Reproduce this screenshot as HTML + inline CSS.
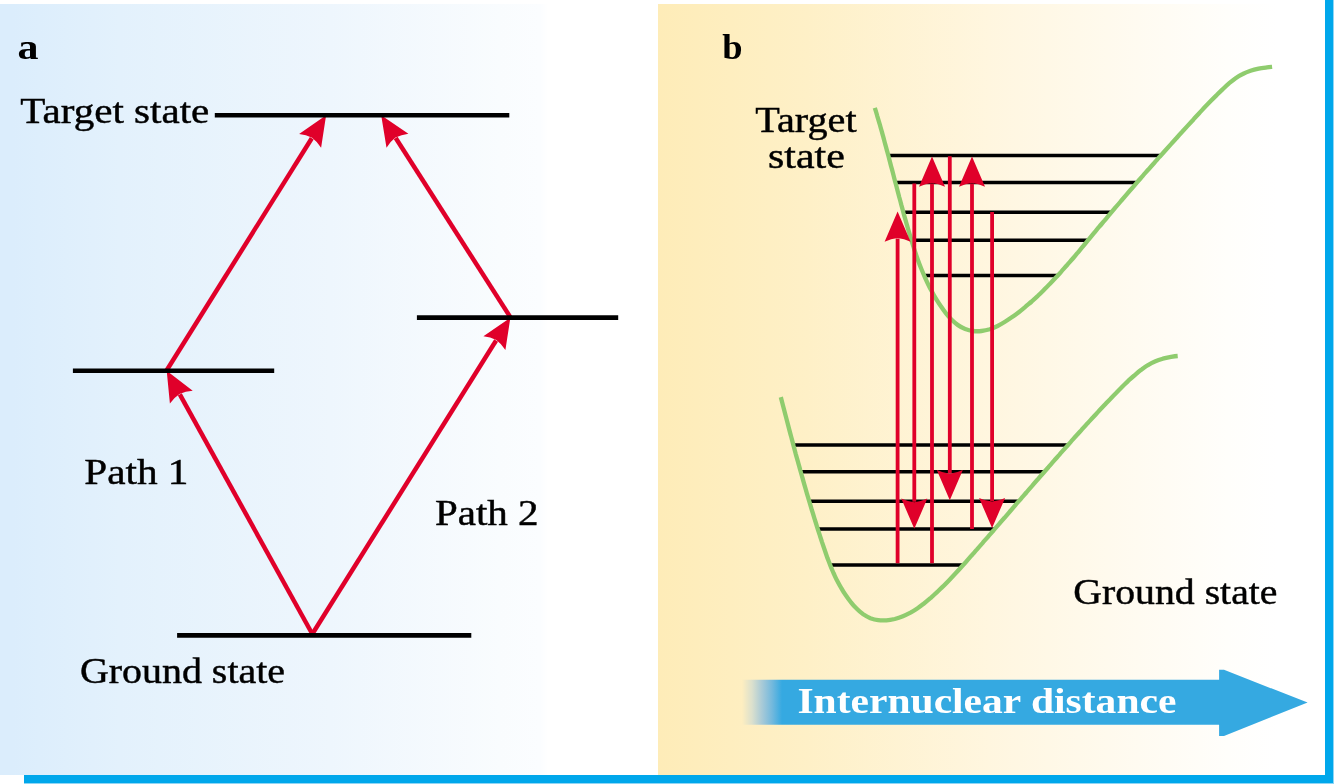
<!DOCTYPE html>
<html lang="en">
<head>
<meta charset="utf-8">
<title>Coherent control: interfering pathways</title>
<style>
html,body{margin:0;padding:0;background:#fff;}
body{width:1334px;height:784px;overflow:hidden;position:relative;font-family:"Liberation Serif","DejaVu Serif",serif;}
.figure{position:absolute;left:0;top:0;width:1334px;height:784px;overflow:hidden;background:#fff;}
.panel{position:absolute;top:4px;height:771px;}
.panel.a{left:0;width:658px;background:linear-gradient(90deg,#dbedfc 0px,#dbedfc 12px,#e3f1fc 120px,#eef6fd 330px,#f9fcfe 500px,#fbfdff 540px,#ffffff 548px);}
.panel.b{left:658px;width:667px;background:linear-gradient(90deg,#feecb8 0px,#fef0c7 150px,#fff6df 330px,#fffbf1 480px,#fffefb 570px,#ffffff 620px);}
.rule-bottom{position:absolute;left:24px;top:775px;width:1310px;height:8px;background:#00a7eb;}
.rule-right{position:absolute;left:1325px;top:0;width:8px;height:784px;background:#00a7eb;}
.edge-b{position:absolute;left:24px;top:783px;width:1310px;height:1px;background:#8fd6f5;}
.edge-r{position:absolute;left:1333px;top:0;width:1px;height:784px;background:#8fd6f5;}
svg{position:absolute;left:0;top:0;will-change:transform;}
svg text{font-family:"Liberation Serif","DejaVu Serif",serif;}
</style>
</head>
<body>
<div class="figure">
<div class="panel a"></div>
<div class="panel b"></div>
<div class="rule-bottom"></div>
<div class="rule-right"></div>
<div class="edge-b"></div>
<div class="edge-r"></div>
<svg width="1334" height="784" viewBox="0 0 1334 784">
<defs>
<linearGradient id="shaft" x1="742" y1="0" x2="782" y2="0" gradientUnits="userSpaceOnUse">
<stop offset="0" stop-color="#feeec0"/>
<stop offset="0.25" stop-color="#dbe0cd"/>
<stop offset="0.5" stop-color="#a8cad7"/>
<stop offset="0.75" stop-color="#74b9dd"/>
<stop offset="1" stop-color="#35a9e1"/>
</linearGradient>
</defs>
<g id="panel-a">
<path d="M312.3 634L179.8 394.3" stroke="#e0002a" stroke-width="4.5" fill="none"/><path d="M166.7 370.7L192.7 390.8Q185.5 391.2 179.5 393.9Q174.1 397.5 169.9 403.4Z" fill="#e0002a"/>
<path d="M312.3 634L496.1 340.5" stroke="#e0002a" stroke-width="4.5" fill="none"/><path d="M510.4 317.6L505.4 350.1Q501.6 344 496.3 340.1Q490.5 337.1 483.4 336.3Z" fill="#e0002a"/>
<path d="M166.4 370.7L311.8 138.2" stroke="#e0002a" stroke-width="4.5" fill="none"/><path d="M326.1 115.3L321.1 147.8Q317.3 141.7 312.1 137.8Q306.2 134.8 299.1 134Z" fill="#e0002a"/>
<path d="M510.6 317.6L395.7 138" stroke="#e0002a" stroke-width="4.5" fill="none"/><path d="M381.2 115.3L408.4 133.7Q401.3 134.6 395.5 137.6Q390.3 141.6 386.5 147.7Z" fill="#e0002a"/>
<path d="M214.8 115.3H509.3" stroke="#000" stroke-width="4.6"/>
<path d="M72.9 370.7H274.2" stroke="#000" stroke-width="4.6"/>
<path d="M416.9 317.6H618.2" stroke="#000" stroke-width="4.6"/>
<path d="M177.1 635.4H471.3" stroke="#000" stroke-width="4.6"/>
</g>
<g id="panel-b">
<path d="M888 155.4H1161.2" stroke="#000" stroke-width="3.5"/>
<path d="M895.1 182.5H1137.3" stroke="#000" stroke-width="3.5"/>
<path d="M903 212.2H1111.8" stroke="#000" stroke-width="3.5"/>
<path d="M911.1 240.2H1088.4" stroke="#000" stroke-width="3.5"/>
<path d="M923.7 275.4H1058.2" stroke="#000" stroke-width="3.5"/>
<path d="M793 444.9H1068.4" stroke="#000" stroke-width="3.5"/>
<path d="M800.4 471.8H1044.6" stroke="#000" stroke-width="3.5"/>
<path d="M808.9 501.2H1019.1" stroke="#000" stroke-width="3.5"/>
<path d="M817.5 529H995" stroke="#000" stroke-width="3.5"/>
<path d="M829.8 564.9H963.6" stroke="#000" stroke-width="3.5"/>
<path d="M874.8 107.8C875.2 109.1 876.5 113.1 877.2 115.8C878 118.5 878.8 121.1 879.6 123.8C880.3 126.5 881.1 129.2 881.9 131.9C882.6 134.6 883.4 137.3 884.1 140C884.8 142.7 885.6 145.4 886.3 148.1C887 150.8 887.8 153.5 888.5 156.2C889.2 159 889.9 161.7 890.6 164.4C891.3 167.1 892.1 169.8 892.8 172.5C893.5 175.3 894.2 178 894.9 180.7C895.6 183.4 896.4 186.1 897.1 188.9C897.8 191.6 898.5 194.3 899.2 197C900 199.7 900.7 202.4 901.4 205.1C902.2 207.9 902.9 210.6 903.6 213.3C904.4 216 905.1 218.7 905.9 221.3C906.7 224 907.4 226.7 908.2 229.4C909 232.1 909.8 234.8 910.6 237.4C911.4 240.1 912.2 242.8 913 245.4C913.9 248.1 914.7 250.7 915.6 253.3C916.5 256 917.4 258.6 918.4 261.2C919.3 263.8 920.3 266.4 921.4 269C922.4 271.5 923.5 274.1 924.6 276.6C925.7 279.2 926.9 281.7 928.1 284.2C929.3 286.8 930.6 289.2 932 291.7C933.3 294.2 934.7 296.6 936.2 299.1C937.7 301.5 939.2 303.9 940.9 306.3C942.5 308.7 944.2 311.1 946 313.3C947.8 315.6 949.7 317.8 951.7 319.7C953.7 321.7 955.8 323.6 958 325.1C960.3 326.7 962.6 328 965.2 329C967.7 330 970.4 330.7 973.1 331C975.8 331.3 978.7 331.3 981.5 331C984.3 330.7 987.1 330.1 989.8 329.3C992.5 328.4 995.1 327.2 997.6 326C1000.2 324.8 1002.6 323.3 1005 321.8C1007.4 320.3 1009.8 318.7 1012.1 317.1C1014.3 315.5 1016.6 313.9 1018.8 312.2C1021 310.5 1023.1 308.7 1025.3 306.9C1027.4 305.1 1029.6 303.3 1031.7 301.5C1033.7 299.6 1035.8 297.7 1037.9 295.8C1039.9 293.9 1041.9 291.9 1043.9 289.9C1045.9 288 1047.9 286 1049.8 283.9C1051.8 281.9 1053.7 279.9 1055.6 277.8C1057.6 275.8 1059.4 273.7 1061.3 271.6C1063.2 269.5 1065 267.4 1066.9 265.3C1068.7 263.2 1070.6 261.1 1072.4 259C1074.2 256.9 1076 254.7 1077.8 252.6C1079.6 250.4 1081.4 248.3 1083.2 246.1C1085 244 1086.8 241.8 1088.6 239.7C1090.4 237.5 1092.1 235.4 1093.9 233.2C1095.7 231 1097.5 228.9 1099.3 226.7C1101.1 224.6 1102.9 222.4 1104.7 220.3C1106.5 218.1 1108.3 216 1110.1 213.8C1111.9 211.7 1113.7 209.6 1115.5 207.4C1117.4 205.3 1119.2 203.2 1121 201C1122.8 198.9 1124.6 196.8 1126.5 194.6C1128.3 192.5 1130.1 190.4 1132 188.3C1133.8 186.2 1135.7 184 1137.5 181.9C1139.3 179.8 1141.2 177.7 1143 175.6C1144.9 173.5 1146.7 171.4 1148.6 169.3C1150.4 167.2 1152.3 165.1 1154.2 163C1156 160.9 1157.9 158.8 1159.7 156.7C1161.6 154.6 1163.5 152.5 1165.3 150.5C1167.2 148.4 1169.1 146.3 1171 144.2C1172.8 142.1 1174.7 140.1 1176.6 138C1178.4 135.9 1180.3 133.8 1182.2 131.8C1184.1 129.7 1186 127.6 1187.8 125.6C1189.7 123.5 1191.6 121.4 1193.5 119.4C1195.4 117.3 1197.3 115.3 1199.2 113.2C1201.1 111.2 1203 109.1 1204.9 107.1C1206.8 105.1 1208.8 103.1 1210.7 101.1C1212.7 99 1214.7 97 1216.7 95.1C1218.7 93.1 1220.7 91.1 1222.8 89.1C1224.8 87.2 1226.9 85.2 1229 83.4C1231.2 81.6 1233.3 79.8 1235.6 78.2C1237.9 76.6 1240.3 75.2 1242.8 74C1245.3 72.7 1247.9 71.7 1250.5 70.8C1253.1 70 1255.9 69.3 1258.6 68.7C1261.4 68.1 1264.8 67.7 1267 67.4C1269.2 67.1 1271.2 66.9 1272.1 66.8" stroke="#8fcc6e" stroke-width="4.3" fill="none"/>
<path d="M780.8 397.1C781.2 398.5 782.2 402.5 782.9 405.2C783.6 407.9 784.3 410.6 785 413.3C785.7 415.9 786.4 418.6 787.1 421.3C787.8 424 788.5 426.7 789.2 429.4C789.9 432.1 790.6 434.8 791.4 437.5C792.1 440.2 792.8 442.9 793.5 445.6C794.3 448.3 795 451.1 795.7 453.8C796.5 456.5 797.2 459.2 798 461.9C798.7 464.6 799.5 467.3 800.2 470C801 472.7 801.7 475.4 802.5 478C803.3 480.7 804 483.4 804.8 486.1C805.6 488.8 806.4 491.5 807.1 494.2C807.9 496.9 808.7 499.6 809.5 502.2C810.3 504.9 811.1 507.6 811.9 510.3C812.8 512.9 813.6 515.6 814.4 518.3C815.2 520.9 816.1 523.6 816.9 526.3C817.7 528.9 818.6 531.6 819.4 534.2C820.3 536.9 821.2 539.5 822 542.1C822.9 544.8 823.8 547.4 824.7 550C825.6 552.6 826.5 555.3 827.4 557.9C828.4 560.5 829.4 563 830.4 565.6C831.4 568.2 832.5 570.7 833.6 573.3C834.8 575.8 835.9 578.3 837.2 580.8C838.5 583.3 839.8 585.7 841.3 588.1C842.7 590.6 844.2 593 845.8 595.3C847.4 597.7 849.1 600.1 851 602.3C852.8 604.6 854.7 606.8 856.8 608.8C858.8 610.8 860.9 612.7 863.2 614.3C865.5 615.8 867.9 617.2 870.4 618.2C872.9 619.1 875.5 619.8 878.2 620.1C880.9 620.5 883.7 620.5 886.4 620.3C889.2 620.1 892 619.6 894.8 619C897.5 618.3 900.2 617.4 902.9 616.3C905.5 615.3 908 614 910.5 612.7C912.9 611.3 915.3 609.8 917.6 608.2C919.9 606.7 922.1 604.9 924.3 603.2C926.5 601.5 928.7 599.6 930.8 597.8C932.9 595.9 934.9 594.1 937 592.2C939 590.3 941 588.3 943 586.4C945 584.4 947 582.4 948.9 580.4C950.8 578.4 952.7 576.4 954.7 574.3C956.6 572.3 958.4 570.2 960.3 568.2C962.2 566.1 964 564 965.9 562C967.8 559.9 969.6 557.8 971.4 555.7C973.3 553.6 975.1 551.5 977 549.4C978.8 547.3 980.6 545.2 982.5 543.1C984.3 541 986.2 538.9 988 536.8C989.8 534.7 991.7 532.6 993.5 530.5C995.3 528.3 997.1 526.2 999 524.1C1000.8 522 1002.6 519.9 1004.5 517.8C1006.3 515.7 1008.1 513.6 1009.9 511.5C1011.8 509.3 1013.6 507.2 1015.4 505.1C1017.2 503 1019.1 500.9 1020.9 498.8C1022.7 496.7 1024.6 494.6 1026.4 492.5C1028.2 490.3 1030 488.2 1031.9 486.1C1033.7 484 1035.5 481.9 1037.4 479.8C1039.2 477.7 1041 475.6 1042.9 473.5C1044.7 471.4 1046.5 469.3 1048.4 467.2C1050.2 465.1 1052.1 463 1053.9 460.9C1055.8 458.8 1057.6 456.7 1059.5 454.6C1061.3 452.5 1063.2 450.4 1065 448.3C1066.9 446.2 1068.7 444.2 1070.6 442.1C1072.5 440 1074.3 437.9 1076.2 435.8C1078.1 433.8 1079.9 431.7 1081.8 429.6C1083.7 427.6 1085.6 425.5 1087.4 423.4C1089.3 421.4 1091.2 419.3 1093.1 417.3C1095 415.2 1096.9 413.2 1098.8 411.1C1100.7 409.1 1102.6 407 1104.5 405C1106.4 403 1108.3 400.9 1110.3 398.9C1112.2 396.9 1114.1 394.9 1116.1 392.9C1118 390.9 1120 388.9 1122 386.9C1124 385 1126 383 1128 381.1C1130.1 379.2 1132.1 377.3 1134.3 375.5C1136.4 373.7 1138.5 371.8 1140.8 370.1C1143 368.5 1145.2 366.8 1147.6 365.3C1150 363.9 1152.4 362.6 1154.9 361.5C1157.5 360.4 1160.1 359.5 1162.8 358.7C1165.5 358 1168.5 357.4 1171 356.9C1173.5 356.5 1176.6 356.1 1177.7 356" stroke="#8fcc6e" stroke-width="4.3" fill="none"/>
<path d="M897.6 563.3L897.6 238.6" stroke="#e0002a" stroke-width="3.8" fill="none"/><path d="M897.6 211.6L910.6 241.8Q904.1 238.7 897.6 238.1Q891.1 238.7 884.6 241.8Z" fill="#e0002a"/>
<path d="M914.3 183.6L914.3 501.8" stroke="#e0002a" stroke-width="3.8" fill="none"/><path d="M914.3 528.8L901.3 498.6Q907.8 501.7 914.3 502.3Q920.8 501.7 927.3 498.6Z" fill="#e0002a"/>
<path d="M932 563.3L932 183.5" stroke="#e0002a" stroke-width="3.8" fill="none"/><path d="M932 156.5L945 186.7Q938.5 183.6 932 183Q925.5 183.6 919 186.7Z" fill="#e0002a"/>
<path d="M949.8 156.2L949.8 473.2" stroke="#e0002a" stroke-width="3.8" fill="none"/><path d="M949.8 500.2L936.8 470Q943.3 473.1 949.8 473.7Q956.3 473.1 962.8 470Z" fill="#e0002a"/>
<path d="M972 529L972 183.5" stroke="#e0002a" stroke-width="3.8" fill="none"/><path d="M972 156.5L985 186.7Q978.5 183.6 972 183Q965.5 183.6 959 186.7Z" fill="#e0002a"/>
<path d="M992.1 212L992.1 501.1" stroke="#e0002a" stroke-width="3.8" fill="none"/><path d="M992.1 528.1L979.1 497.9Q985.6 501 992.1 501.6Q998.6 501 1005.1 497.9Z" fill="#e0002a"/>
</g>
<g id="axis-arrow">
<path d="M742 679.8H1219.1V669.8H1224L1307.6 702.6L1224 735.9H1219.1V724.7H742Z" fill="url(#shaft)"/>
</g>
<g id="labels">
<text x="17.6" y="58.8" font-size="36" font-weight="bold" fill="#000" textLength="21" lengthAdjust="spacingAndGlyphs">a</text>
<text x="722.2" y="58.6" font-size="36" font-weight="bold" fill="#000" textLength="20.3" lengthAdjust="spacingAndGlyphs">b</text>
<text x="20.3" y="122.5" font-size="36" fill="#000" textLength="189" lengthAdjust="spacingAndGlyphs" stroke="#000" stroke-width="0.45">Target state</text>
<text x="84.2" y="484.3" font-size="36" fill="#000" textLength="104.3" lengthAdjust="spacingAndGlyphs" stroke="#000" stroke-width="0.45">Path 1</text>
<text x="435" y="524.5" font-size="36" fill="#000" textLength="103.6" lengthAdjust="spacingAndGlyphs" stroke="#000" stroke-width="0.45">Path 2</text>
<text x="80" y="682.7" font-size="36" fill="#000" textLength="205" lengthAdjust="spacingAndGlyphs" stroke="#000" stroke-width="0.45">Ground state</text>
<text x="755.2" y="132.4" font-size="36" fill="#000" textLength="101.4" lengthAdjust="spacingAndGlyphs" stroke="#000" stroke-width="0.45">Target</text>
<text x="768" y="167.5" font-size="36" fill="#000" textLength="76.8" lengthAdjust="spacingAndGlyphs" stroke="#000" stroke-width="0.45">state</text>
<text x="1073.3" y="603.9" font-size="36" fill="#000" textLength="204.2" lengthAdjust="spacingAndGlyphs" stroke="#000" stroke-width="0.45">Ground state</text>
<text x="797.4" y="713" font-size="36" font-weight="bold" fill="#fff" textLength="379" lengthAdjust="spacingAndGlyphs">Internuclear distance</text>
</g>
</svg>
</div>
</body>
</html>
